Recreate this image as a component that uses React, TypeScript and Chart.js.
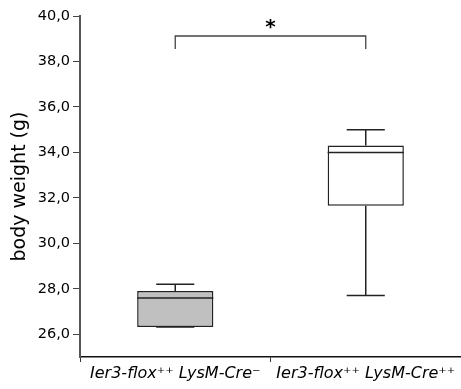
import React, { useEffect, useRef } from "react";
import { Chart, registerables } from "chart.js";

Chart.register(...registerables);

const categories = ["Ier3-flox\u207A\u207A LysM-Cre\u207B", "Ier3-flox\u207A\u207A LysM-Cre\u207A\u207A"];
const whiskerMin = [26.32, 27.7];
const q1 = [26.32, 31.65];
const median = [27.6, 34.0];
const q3 = [27.9, 34.3];
const whiskerMax = [28.2, 35.0];
const boxColors = ["#c0c0c0", "#ffffff"];
const yTicks = [26, 28, 30, 32, 34, 36, 38, 40];
const yMin = 25;
const yMax = 40;
const sigPair = [0, 1];
const sigBarY = 39.12;
const sigEndY = 38.55;
const sigLabel = "*";

const LINE = "#222";

const boxPlugin = {
  id: "boxWhiskers",
  afterDatasetsDraw(chart: any) {
    const { ctx } = chart;
    const x = chart.scales.x;
    const y = chart.scales.y;
    const meta = chart.getDatasetMeta(0);
    ctx.save();
    ctx.strokeStyle = LINE;
    ctx.lineWidth = 1.5;
    categories.forEach((_, i) => {
      const bar = meta.data[i];
      const cx = x.getPixelForValue(i);
      const half = bar.width / 2;
      const capHalf = bar.width / 4;
      const pMed = y.getPixelForValue(median[i]);
      const pQ1 = y.getPixelForValue(q1[i]);
      const pQ3 = y.getPixelForValue(q3[i]);
      const pMax = y.getPixelForValue(whiskerMax[i]);
      const pMin = y.getPixelForValue(whiskerMin[i]);
      ctx.beginPath();
      ctx.moveTo(cx - half, pMed);
      ctx.lineTo(cx + half, pMed);
      ctx.moveTo(cx, pQ3);
      ctx.lineTo(cx, pMax);
      ctx.moveTo(cx - capHalf, pMax);
      ctx.lineTo(cx + capHalf, pMax);
      ctx.moveTo(cx, pQ1);
      ctx.lineTo(cx, pMin);
      ctx.moveTo(cx - capHalf, pMin);
      ctx.lineTo(cx + capHalf, pMin);
      ctx.stroke();
    });
    // significance bracket
    const xa = x.getPixelForValue(sigPair[0]);
    const xb = x.getPixelForValue(sigPair[1]);
    const yb = y.getPixelForValue(sigBarY);
    const ye = y.getPixelForValue(sigEndY);
    ctx.strokeStyle = "#444";
    ctx.lineWidth = 1.3;
    ctx.beginPath();
    ctx.moveTo(xa, ye);
    ctx.lineTo(xa, yb);
    ctx.lineTo(xb, yb);
    ctx.lineTo(xb, ye);
    ctx.stroke();
    ctx.fillStyle = "#000";
    ctx.font = "bold 20px 'DejaVu Sans'";
    ctx.textAlign = "center";
    ctx.textBaseline = "alphabetic";
    ctx.fillText(sigLabel, (xa + xb) / 2, yb - 3);
    ctx.restore();
  },
};

export default function App() {
  const ref = useRef<HTMLCanvasElement>(null);
  useEffect(() => {
    if (!ref.current) return;
    const chart = new Chart(ref.current, {
      type: "bar",
      data: {
        labels: categories,
        datasets: [
          {
            data: categories.map((_, i) => [q1[i], q3[i]]) as any,
            backgroundColor: boxColors,
            borderColor: LINE,
            borderWidth: 1.5,
            borderSkipped: false,
            categoryPercentage: 1,
            barPercentage: 0.4,
          },
        ],
      },
      options: {
        animation: false,
        responsive: true,
        maintainAspectRatio: false,
        layout: { padding: { top: 16, right: 0, left: 0, bottom: 0 } },
        plugins: { legend: { display: false }, tooltip: { enabled: false } },
        scales: {
          x: {
            afterFit: (s: any) => {
              s.height = 32;
            },
            grid: {
              display: true,
              offset: true,
              drawOnChartArea: false,
              drawTicks: true,
              tickLength: 5,
              color: "#333",
              lineWidth: 1,
            },
            border: { color: "#111", width: 1.5 },
            ticks: {
              color: "#000",
              padding: 2,
              font: { family: "'DejaVu Sans'", size: 16, style: "italic" },
              maxRotation: 0,
              autoSkip: false,
            },
          },
          y: {
            min: yMin,
            max: yMax,
            afterFit: (s: any) => {
              s.width = 80;
            },
            afterBuildTicks: (s: any) => {
              s.ticks = yTicks.map((v) => ({ value: v }));
            },
            grid: {
              display: true,
              drawOnChartArea: false,
              drawTicks: true,
              tickLength: 7,
              color: "#444",
            },
            border: { color: "#555", width: 2 },
            ticks: {
              color: "#000",
              padding: 3,
              font: { family: "'DejaVu Sans'", size: 14.5 },
              callback: (v: any) => Number(v).toFixed(1).replace(".", ","),
            },
            title: {
              display: true,
              text: "body weight (g)",
              color: "#000",
              font: { family: "'DejaVu Sans'", size: 19, lineHeight: 1.2 },
              padding: { top: 9, bottom: 8 },
            },
          },
        },
      },
      plugins: [boxPlugin],
    });
    return () => chart.destroy();
  }, []);
  return (
    <div style={{ position: "absolute", left: 0, top: 0, width: 461, height: 389, background: "#fff" }}>
      <canvas ref={ref} />
    </div>
  );
}
